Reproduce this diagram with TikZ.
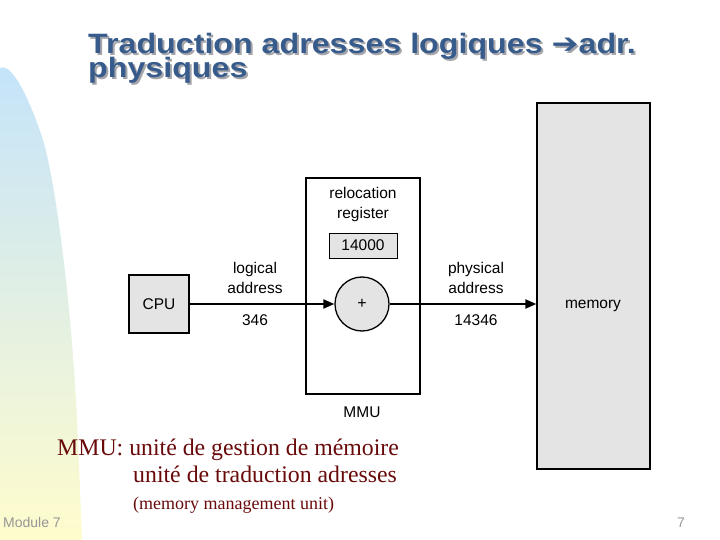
\documentclass[tikz,border=0pt]{standalone}
\usepackage{fontspec}
\usepackage{graphicx}
\setmainfont{Liberation Serif}
\setsansfont{Liberation Sans}
\newfontfamily\arrowfont{DejaVu Sans}
\usetikzlibrary{arrows.meta}
\definecolor{titleblue}{RGB}{55,92,140}
\definecolor{titleshadow}{RGB}{165,165,170}
\definecolor{boxgray}{RGB}{228,228,228}
\definecolor{noteRed}{RGB}{105,10,10}
\definecolor{footgray}{RGB}{150,150,150}
\definecolor{topblue}{RGB}{196,227,250}
\definecolor{botyellow}{RGB}{255,252,205}
\newcommand{\ttlA}{\scalebox{1.15}[1]{Traduction adresses logiques {\arrowfont\bfseries ➔}adr.}}
\newcommand{\ttlB}{\scalebox{1.15}[1]{physiques}}
\tikzset{
  graybox/.style={draw=black, line width=1.3pt, fill=boxgray, inner sep=0pt},
  whitebox/.style={draw=black, line width=1.3pt, fill=white, inner sep=0pt},
  conn/.style={line width=2pt, -{Triangle[length=11pt,width=9pt]}},
  lbl/.style={font=\sffamily\fontsize{15.5}{20}\selectfont, align=center, inner sep=0pt},
  titletxt/.style={font=\sffamily\bfseries\fontsize{28}{28}\selectfont, anchor=base west, inner sep=0pt},
  note/.style={font=\rmfamily\fontsize{23.8}{24}\selectfont, text=noteRed, anchor=base west, inner sep=0pt}
}
\begin{document}
\begin{tikzpicture}[x=1pt,y=-1pt]
\useasboundingbox (0,0) rectangle (720,540);
% left gradient band
\shade[top color=topblue, bottom color=botyellow]
  (0,540) -- (0,68) .. controls (12,62) and (30,100) .. (43,140)
  .. controls (55,180) and (72,300) .. (78,440) -- (82,540) -- cycle;
% title
\node[titletxt, text=titleshadow] at (90,56) {\ttlA};
\node[titletxt, text=titleshadow] at (90,80) {\ttlB};
\node[titletxt, text=titleblue] (t1) at (88,54) {\ttlA};
\node[titletxt, text=titleblue] (t2) at (88,78) {\ttlB};
% memory
\node[graybox, minimum width=113, minimum height=366] (mem) at (593.5,286) {};
\node[lbl] (memlbl) at (593,306) {memory};
% MMU
\node[whitebox, minimum width=114, minimum height=216] (mmu) at (363,286) {};
\node[lbl] (rel) at (363,204) {relocation\\register};
\node[graybox, line width=1pt, minimum width=68, minimum height=25, font=\sffamily\fontsize{15.5}{16}\selectfont] (reg) at (363,245.5) {14000};
\node[draw=black, line width=1.3pt, fill=boxgray, circle, minimum size=54, inner sep=0pt, font=\sffamily\fontsize{16}{16}\selectfont] (plus) at (362,304) {+};
\node[lbl] (mmulbl) at (362,412) {MMU};
% CPU
\node[graybox, minimum width=60, minimum height=58, font=\sffamily\fontsize{15.5}{16}\selectfont] (cpu) at (159,304) {CPU};
% connectors
\draw[conn] (cpu.east) -- (plus.west);
\draw[conn] (plus.east) -- (plus.east -| mem.west);
% labels
\node[lbl] (la) at (255,278) {logical\\address};
\node[lbl] (la2) at (255,320) {346};
\node[lbl] (pa) at (476,278) {physical\\address};
\node[lbl] (pa2) at (476,320) {14346};
% notes
\node[note] (n1) at (57,455) {MMU: unité de gestion de mémoire};
\node[note] (n2) at (133,482) {unité de traduction adresses};
\node[note, font=\rmfamily\fontsize{18}{18}\selectfont] (n3) at (133,509) {(memory management unit)};
\node[font=\sffamily\fontsize{14}{14}\selectfont, text=footgray, anchor=base west, inner sep=0pt] (mod) at (3,527) {Module 7};
\node[font=\sffamily\fontsize{14}{14}\selectfont, text=footgray, anchor=base west, inner sep=0pt] (pg) at (677,527) {7};
\end{tikzpicture}
\end{document}
